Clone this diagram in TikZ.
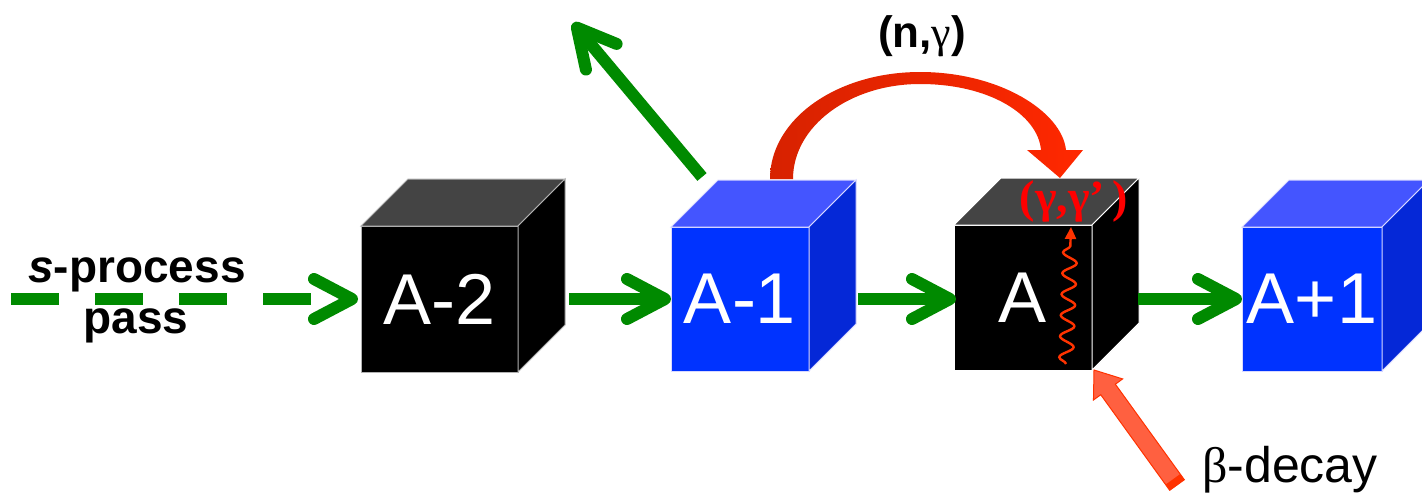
\documentclass[tikz,border=0pt]{standalone}
\usepackage{fontspec}
\setmainfont{Liberation Sans}
\newfontfamily\grk{Liberation Serif}
\usetikzlibrary{arrows.meta,calc,decorations.pathmorphing}
\definecolor{gr}{RGB}{0,138,0}
\definecolor{bfront}{RGB}{0,51,255}
\definecolor{btop}{RGB}{68,85,255}
\definecolor{bside}{RGB}{5,40,215}
\definecolor{ktop}{RGB}{68,68,68}
\definecolor{ngdark}{RGB}{215,34,0}
\definecolor{nglight}{RGB}{255,40,0}
\definecolor{wavec}{RGB}{255,51,0}
\definecolor{gglab}{RGB}{255,0,0}
\definecolor{betafill}{RGB}{255,96,64}
\definecolor{betaedge}{RGB}{255,50,0}
\tikzset{
  face/.style={rectangle, inner sep=0pt, outer sep=0pt, line width=1pt, text=white,
    font=\fontsize{72}{80}\selectfont},
  garrow/.style={draw=gr, line width=12pt,
    -{Straight Barb[length=38pt,width=40pt,line cap=round,line join=round]}},
  lbl/.style={anchor=base, inner sep=0pt},
}
\newcommand\mkcube[9]{%
  \node[face, draw=#8, minimum width=#3pt, minimum height=#4pt, fill=#5] (#1) at (#2) {#9};
  \filldraw[draw=#8, line width=1pt, fill=#6] (#1.north west) -- ++(47,-47)
     -- ($(#1.north east)+(47,-47)$) -- (#1.north east) -- cycle;
  \filldraw[draw=#8, line width=1pt, fill=#7] (#1.north east) -- ++(47,-47)
     -- ($(#1.south east)+(47,-47)$) -- (#1.south east) -- cycle;
}
\begin{document}
\begin{tikzpicture}[x=1pt,y=-1pt]
\path[use as bounding box, clip] (0,0) rectangle (1422,493);
\fill[white] (0,0) rectangle (1422,493);

% cubes
\mkcube{A2}{439.5,299}{157}{146}{black}{ktop}{black}{gray!60}{A-2}
\mkcube{A1}{740,299}{138}{144}{bfront}{btop}{bside}{white!85!blue}{A-1}
\mkcube{A}{1023,297.5}{138}{145}{black}{ktop}{black}{white}{A}
\mkcube{A3}{1312,299}{140}{144}{bfront}{btop}{bside}{white!85!blue}{A+1}

% green arrows
\coordinate (s0) at (11,299);
\coordinate (esc) at (573,23);
\draw[garrow, dash pattern=on 48pt off 36pt on 48pt off 36pt on 48pt off 36pt on 48pt off 400pt]
  (s0) -- ([xshift=-3pt]A2.west);
\draw[garrow] ([xshift=51pt]A2.east) -- (A1.west);
\draw[garrow] ([xshift=49pt]A1.east) -- ($(A.west |- A1.east)+(2,0)$);
\draw[garrow] ($(A.east |- A3.west)+(46,0)$) -- (A3.west);
\draw[garrow] ([shift={(31,-50)}]A1.north west) -- (esc);

% (n,gamma) curved arrow
\shade[left color=ngdark, right color=nglight]
  (770,179) .. controls (770,119) and (837,72) .. (920,72)
  .. controls (1000,72) and (1062,112) .. (1066,150)
  -- (1083,150) -- (1060,178) -- (1027,150) -- (1041,150)
  .. controls (1038,115) and (990,84) .. (920,84)
  .. controls (850,84) and (793,126) .. (793,179) -- cycle;
\node[lbl, font=\fontsize{44}{48}\selectfont\bfseries] (ng) at (922,47) {(n,{\grk\mdseries γ})};

% (gamma,gamma') and wavy arrow
\draw[wavec, line width=2.4pt, decorate,
  decoration={snake, amplitude=7pt, segment length=21pt, post length=12pt},
  -{Triangle[length=12pt,width=11pt]}]
  ([shift={(43,-6)}]A.south) -- ([shift={(48,2)}]A.north);
\node[lbl, text=gglab, font=\fontsize{46}{50}\selectfont\grk\bfseries] (gg) at (1074,212) {(γ,γ’\,)};

% beta decay arrow
\coordinate (btip) at ([shift={(2,0)}]A.south east);
\coordinate (btail) at (1177,485);
\coordinate (bh) at ($(btip)!24pt!(btail)$);
\coordinate (bt2) at ($(btail)!7pt!(btip)$);
\filldraw[fill=betafill, draw=betaedge, line width=1pt]
  ($(btail)!9pt!90:(btip)$) -- ($(bh)!9pt!90:(btip)$) -- ($(bh)!18pt!90:(btip)$)
  -- (btip) -- ($(bh)!18pt!-90:(btip)$) -- ($(bh)!9pt!-90:(btip)$)
  -- ($(btail)!9pt!-90:(btip)$) -- cycle;
\fill[betaedge] ($(btail)!9pt!90:(btip)$) -- ($(btail)!9pt!-90:(btip)$)
  -- ($(bt2)!9pt!-90:(btip)$) -- ($(bt2)!9pt!90:(btip)$) -- cycle;
\node[lbl, font=\fontsize{50}{54}\selectfont] (bd) at (1290,482) {{\grk β}-decay};

% s-process pass
\node[lbl, font=\fontsize{46}{50}\selectfont\bfseries] (sp) at (137,282) {\textit{s}-process};
\node[lbl, font=\fontsize{46}{50}\selectfont\bfseries] (pass) at (136,333) {pass};
\end{tikzpicture}
\end{document}
